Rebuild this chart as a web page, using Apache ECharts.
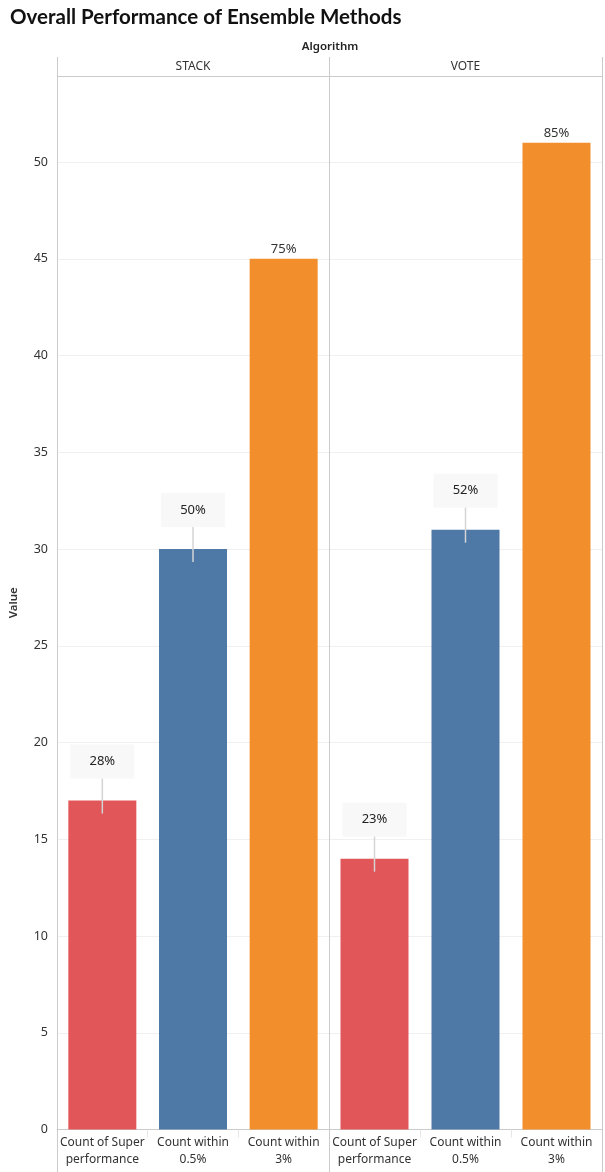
<!DOCTYPE html>
<html>
<head>
<meta charset="utf-8">
<script src="https://cdn.jsdelivr.net/npm/echarts@6/dist/echarts.min.js"></script>
<style>
html,body{margin:0;padding:0;background:#fff;}
#chart{width:605px;height:1172px;}
</style>
</head>
<body>
<div id="chart"></div>
<script>
// ---- data ----
const algorithms = ['STACK', 'VOTE'];
const categories = ['Count of Super\nperformance', 'Count within\n0.5%', 'Count within\n3%'];
const stackValues = [17, 30, 45];
const voteValues = [14, 31, 51];
const stackPct = ['28%', '50%', '75%'];
const votePct = ['23%', '52%', '85%'];
const yMax = 54.45;
const yInterval = 5;

// ---- styles ----
const colors = ['#E15759', '#4E79A7', '#F28E2B'];
const FONT = 'Noto Sans';
const lineCol = '#cbcbcb';
const boxGap = 22;

const panelValues = [stackValues, voteValues];
const panelPct = [stackPct, votePct];
const grids = [
  {left: 57, top: 76, width: 272, height: 1053.5},
  {left: 329, top: 76, width: 273, height: 1053.5}
];

function barData(vals, pcts) {
  return vals.map((v, i) => {
    const boxed = i < 2;
    return {
      value: v,
      itemStyle: {color: colors[i]},
      label: boxed ? {
        show: true, position: 'top', distance: boxGap,
        formatter: pcts[i],
        backgroundColor: '#f8f8f8',
        width: 64, height: 34, lineHeight: 34, align: 'center',
        fontSize: 13, color: '#222', fontFamily: FONT
      } : {
        show: true, position: 'top', distance: 3,
        formatter: pcts[i],
        fontSize: 13, color: '#333', fontFamily: FONT
      }
    };
  });
}

const xAxes = grids.map((g, k) => ({
  type: 'category', gridIndex: k, data: categories,
  axisLine: {show: true, lineStyle: {color: lineCol}},
  axisTick: {show: true, alignWithLabel: false, length: 8, lineStyle: {color: '#e6e6e6'}},
  axisLabel: {interval: 0, fontSize: 12, color: '#333', fontFamily: FONT, lineHeight: 17, margin: 5}
}));

const yAxes = grids.map((g, k) => ({
  type: 'value', gridIndex: k, min: 0, max: yMax, interval: yInterval,
  name: k === 0 ? 'Value' : '',
  nameLocation: 'middle', nameGap: 37, nameRotate: 90,
  nameTextStyle: {fontSize: 11.5, color: '#333', fontFamily: FONT, fontWeight: 600},
  axisLine: {show: true, lineStyle: {color: lineCol}},
  axisTick: {show: false},
  axisLabel: {show: k === 0, fontSize: 12.5, color: '#333', fontFamily: FONT, margin: 9,
    formatter: v => (Math.abs(v % yInterval) < 1e-9 ? String(v) : '')},
  splitLine: {show: true, lineStyle: {color: '#f0f0f0'}}
}));

const series = [];
panelValues.forEach((vals, k) => {
  series.push({
    type: 'bar', xAxisIndex: k, yAxisIndex: k,
    barWidth: 68, data: barData(vals, panelPct[k]), z: 2
  });
  series.push({
    type: 'custom', xAxisIndex: k, yAxisIndex: k, z: 5, silent: true,
    data: vals.slice(0, 2).map((v, i) => [i, v]),
    renderItem: (params, api) => {
      const p = api.coord([api.value(0), api.value(1)]);
      return {
        type: 'line',
        shape: {x1: p[0], y1: p[1] - boxGap, x2: p[0], y2: p[1] + 13},
        style: {stroke: '#d4d4d4', lineWidth: 1.5}
      };
    }
  });
});

const headerGraphics = [
  {type: 'line', shape: {x1: 57.5, y1: 57, x2: 57.5, y2: 1172}, style: {stroke: lineCol, lineWidth: 1}, z: 10},
  {type: 'line', shape: {x1: 329.5, y1: 57, x2: 329.5, y2: 1172}, style: {stroke: lineCol, lineWidth: 1}, z: 10},
  {type: 'line', shape: {x1: 602.5, y1: 57, x2: 602.5, y2: 1172}, style: {stroke: lineCol, lineWidth: 1}, z: 10},
  {type: 'line', shape: {x1: 57, y1: 76.5, x2: 603, y2: 76.5}, style: {stroke: lineCol, lineWidth: 1}, z: 10},
  {type: 'text', x: 330, y: 47, style: {text: 'Algorithm', font: '600 11.5px "' + FONT + '"', fill: '#222', textAlign: 'center', textVerticalAlign: 'middle'}}
];
algorithms.forEach((a, k) => {
  headerGraphics.push({
    type: 'text', x: grids[k].left + grids[k].width / 2, y: 67,
    style: {text: a, font: '12px "' + FONT + '"', fill: '#333', textAlign: 'center', textVerticalAlign: 'middle'}
  });
});

const chart = echarts.init(document.getElementById('chart'), null, {renderer: 'canvas'});
chart.setOption({
  animation: false,
  backgroundColor: '#fff',
  title: {
    text: 'Overall Performance of Ensemble Methods', left: 5, top: 2,
    textStyle: {fontSize: 20.5, fontWeight: 'bold', color: '#111', fontFamily: 'Lato'}
  },
  grid: grids,
  xAxis: xAxes,
  yAxis: yAxes,
  series: series,
  graphic: headerGraphics
});
</script>
</body>
</html>
